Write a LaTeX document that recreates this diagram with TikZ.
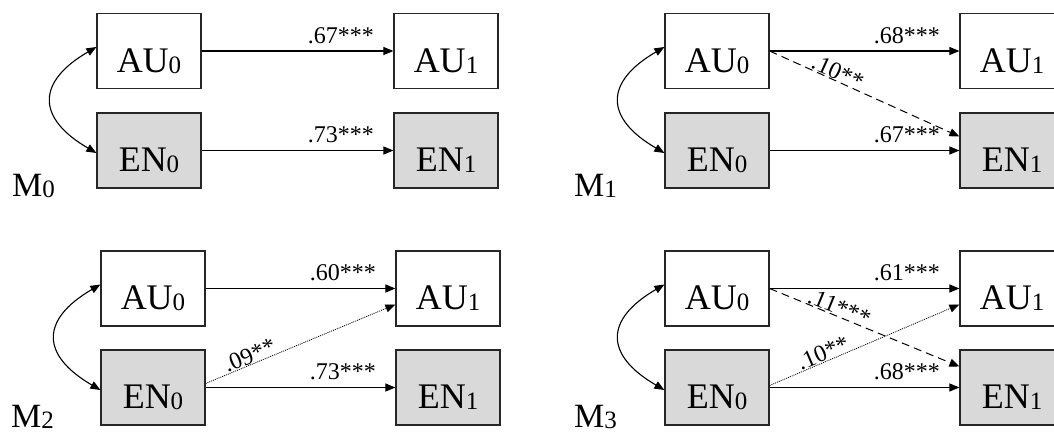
\documentclass[tikz,border=0pt]{standalone}
\usepackage{fontspec}
\setmainfont{Liberation Serif}
\usetikzlibrary{arrows.meta}

% variable name with a lowered index
\newcommand\varidx[2]{#1{\fontsize{25}{25}\selectfont\raisebox{-1pt}{#2}}}

\begin{document}
\begin{tikzpicture}[x=1pt,y=-1pt,
  var/.style={draw=black!85, line width=1.2pt, minimum width=104pt,
    minimum height=75pt, inner sep=0pt, text height=42pt, text depth=0pt,
    font=\fontsize{36}{36}\selectfont},
  obs/.style={var, fill=black!15},
  tip/.style={-{Triangle[length=10pt,width=8pt]}},
  arr/.style={tip, line width=1.1pt},
  dasharr/.style={tip, line width=1pt, dash pattern=on 8pt off 5pt},
  dotarr/.style={tip, line width=0.8pt, dash pattern=on 1pt off 1pt},
  cov/.style={{Triangle[length=10pt,width=8pt]}-{Triangle[length=10pt,width=8pt]}, line width=1.1pt},
  lbl/.style={font=\fontsize{24}{24}\selectfont, inner sep=0pt},
  hl/.style={lbl, pos=1, anchor=south east, xshift=-19pt, yshift=7pt},
  sl/.style={lbl, sloped, anchor=south, inner sep=0.5pt},
  model/.style={anchor=base west, inner sep=0pt, font=\fontsize{34}{34}\selectfont}
]
\useasboundingbox (0,0) rectangle (1054,434);

% ---- M0: autoregressive paths only
\node[var] (AUa0) at (149,51) {\varidx{AU}{0}};
\node[obs] (ENa0) at (149,150.5) {\varidx{EN}{0}};
\node[var] (AUa1) at (446,51) {\varidx{AU}{1}};
\node[obs] (ENa1) at (446,150.5) {\varidx{EN}{1}};
\node[model] (Ma) at (12,196) {\varidx{M}{0}};
\draw[arr] (AUa0) -- (AUa1) node[hl] {.67***};
\draw[arr] (ENa0) -- (ENa1) node[hl] {.73***};
\draw[cov] ([yshift=4pt]AUa0.west) .. controls +(-60,35) and +(-60,-35) .. ([yshift=-2.5pt]ENa0.west);

% ---- M1: AU0 -> EN1 cross-lag
\node[var] (AUb0) at (717,51) {\varidx{AU}{0}};
\node[obs] (ENb0) at (717,150.5) {\varidx{EN}{0}};
\node[var] (AUb1) at (1012,51) {\varidx{AU}{1}};
\node[obs] (ENb1) at (1012,150.5) {\varidx{EN}{1}};
\node[model] (Mb) at (574,196) {\varidx{M}{1}};
\draw[arr] (AUb0) -- (AUb1) node[hl] {.68***};
\draw[arr] (ENb0) -- (ENb1) node[hl] {.67***};
\draw[dasharr] (AUb0.east) -- ([yshift=14pt]ENb1.west) node[sl, pos=0.34] {.10**};
\draw[cov] ([yshift=4pt]AUb0.west) .. controls +(-60,35) and +(-60,-35) .. ([yshift=-2.5pt]ENb0.west);

% ---- M2: EN0 -> AU1 cross-lag
\node[var] (AUc0) at (153,288.5) {\varidx{AU}{0}};
\node[obs] (ENc0) at (153,387.5) {\varidx{EN}{0}};
\node[var] (AUc1) at (448,288.5) {\varidx{AU}{1}};
\node[obs] (ENc1) at (448,387.5) {\varidx{EN}{1}};
\node[model] (Mc) at (11,427) {\varidx{M}{2}};
\draw[arr] (AUc0) -- (AUc1) node[hl] {.60***};
\draw[arr] (ENc0) -- (ENc1) node[hl] {.73***};
\draw[dotarr] ([yshift=4pt]ENc0.east) -- ([yshift=-16pt]AUc1.west) node[sl, pos=0.25] {.09**};
\draw[cov] ([yshift=4pt]AUc0.west) .. controls +(-60,35) and +(-60,-35) .. ([yshift=-2.5pt]ENc0.west);

% ---- M3: both cross-lags
\node[var] (AUd0) at (717,288.5) {\varidx{AU}{0}};
\node[obs] (ENd0) at (717,387.5) {\varidx{EN}{0}};
\node[var] (AUd1) at (1012,288.5) {\varidx{AU}{1}};
\node[obs] (ENd1) at (1012,387.5) {\varidx{EN}{1}};
\node[model] (Md) at (574,427) {\varidx{M}{3}};
\draw[arr] (AUd0) -- (AUd1) node[hl] {.61***};
\draw[arr] (ENd0) -- (ENd1) node[hl] {.68***};
\draw[dasharr] (AUd0.east) -- ([yshift=21pt]ENd1.west) node[sl, pos=0.35] {.11***};
\draw[dotarr] ([yshift=2pt]ENd0.east) -- ([yshift=-16pt]AUd1.west) node[sl, pos=0.30] {.10**};
\draw[cov] ([yshift=4pt]AUd0.west) .. controls +(-60,35) and +(-60,-35) .. ([yshift=-2.5pt]ENd0.west);
\end{tikzpicture}
\end{document}
